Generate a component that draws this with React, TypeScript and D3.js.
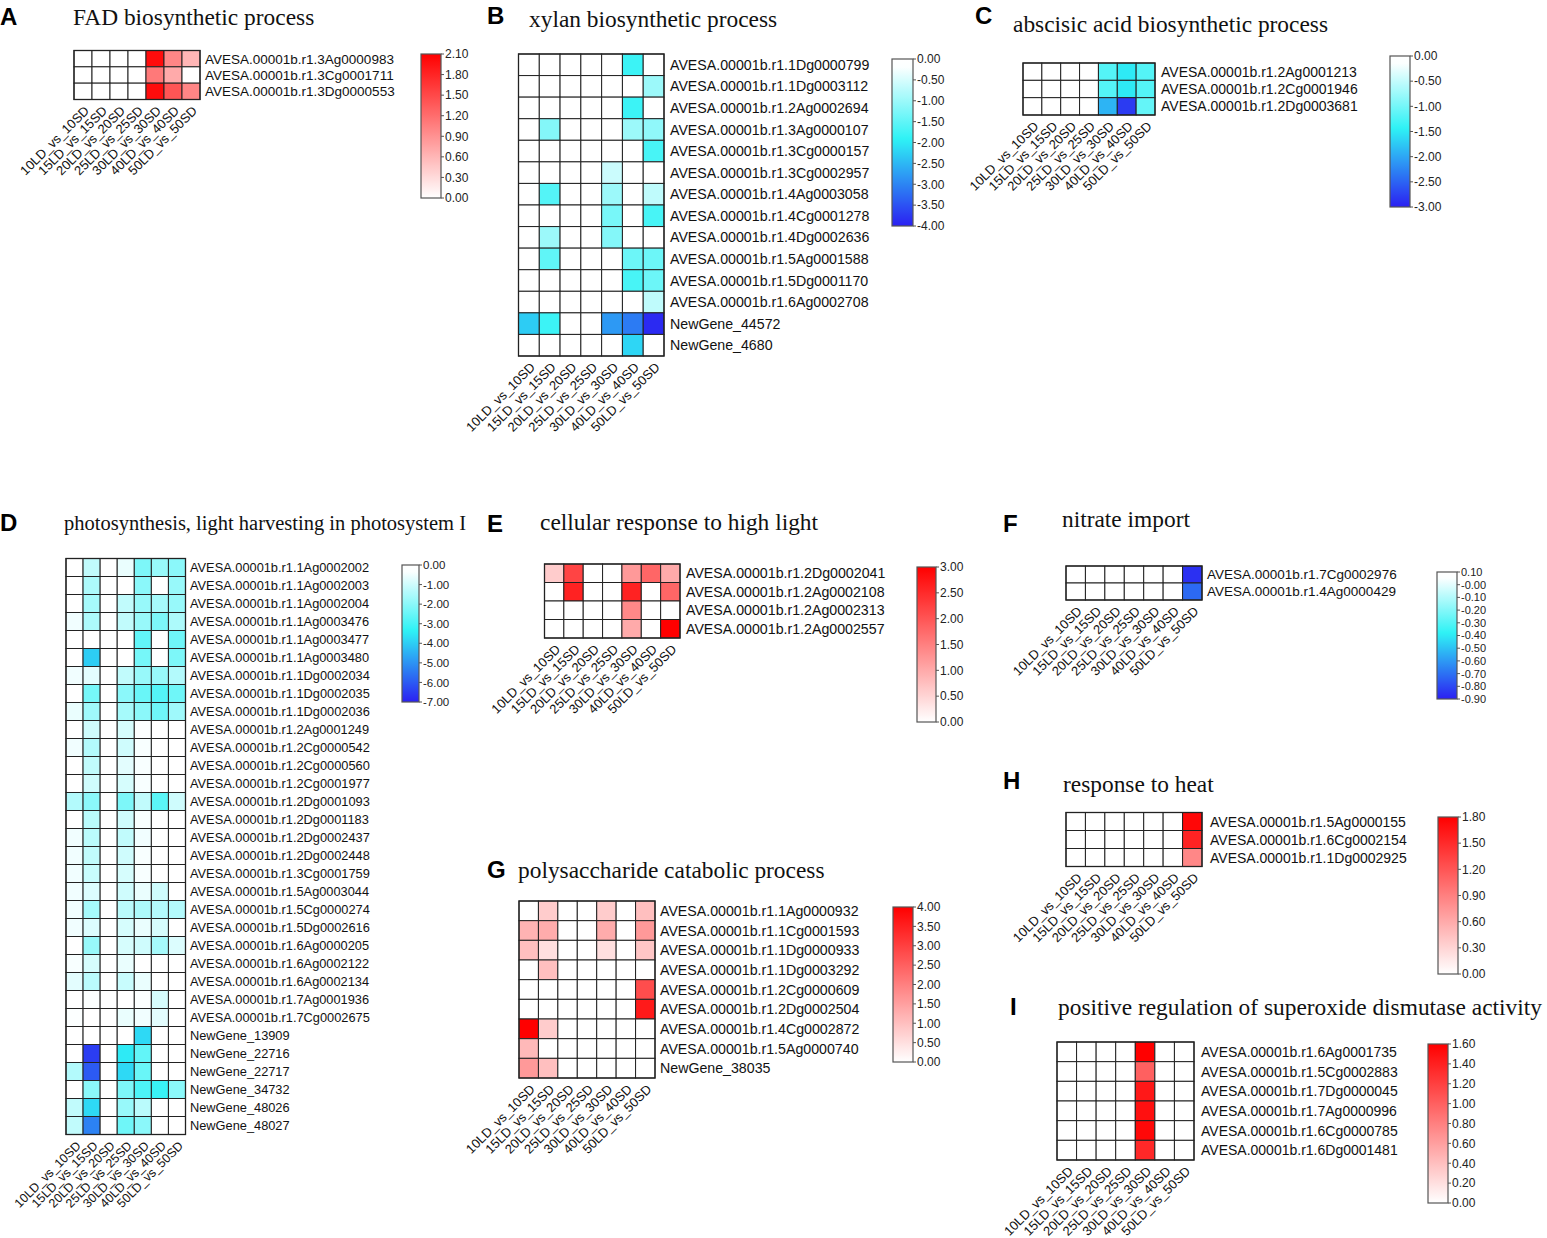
import React from "react";
import * as d3 from "d3";

const COLS = ["10LD_vs_10SD", "15LD_vs_15SD", "20LD_vs_20SD", "25LD_vs_25SD", "30LD_vs_30SD", "40LD_vs_40SD", "50LD_vs_50SD"];

// A: FAD biosynthetic process
const A_GENES = ["AVESA.00001b.r1.3Ag0000983", "AVESA.00001b.r1.3Cg0001711", "AVESA.00001b.r1.3Dg0000553"];
const A_VALUES = [
  [0, 0, 0, 0, 2.0, 1.0, 0.6],
  [0, 0, 0, 0, 1.1, 0.7, 0],
  [0, 0, 0, 0, 2.0, 1.4, 1.0],
];
const A_TICKS = ["2.10", "1.80", "1.50", "1.20", "0.90", "0.60", "0.30", "0.00"];

// B: xylan biosynthetic process
const B_GENES = [
  "AVESA.00001b.r1.1Dg0000799", "AVESA.00001b.r1.1Dg0003112", "AVESA.00001b.r1.2Ag0002694", "AVESA.00001b.r1.3Ag0000107",
  "AVESA.00001b.r1.3Cg0000157", "AVESA.00001b.r1.3Cg0002957", "AVESA.00001b.r1.4Ag0003058", "AVESA.00001b.r1.4Cg0001278",
  "AVESA.00001b.r1.4Dg0002636", "AVESA.00001b.r1.5Ag0001588", "AVESA.00001b.r1.5Dg0001170", "AVESA.00001b.r1.6Ag0002708",
  "NewGene_44572", "NewGene_4680",
];
const B_VALUES = [
  [0, 0, 0, 0, 0, -1.8, 0],
  [0, 0, 0, 0, 0, 0, -1.0],
  [0, 0, 0, 0, 0, -1.8, 0],
  [0, -1.2, 0, 0, 0, -1.0, -1.1],
  [0, 0, 0, 0, 0, 0, -1.7],
  [0, 0, 0, 0, -0.6, 0, 0],
  [0, -1.6, 0, 0, -1.0, 0, -0.7],
  [0, 0, 0, 0, -1.3, 0, -1.7],
  [0, -1.0, 0, 0, -1.2, 0, 0],
  [0, -1.5, 0, 0, 0, -1.4, -1.4],
  [0, 0, 0, 0, 0, -1.7, -1.4],
  [0, 0, 0, 0, 0, 0, -0.7],
  [-2.3, -1.8, 0, 0, -2.8, -3.1, -3.9],
  [0, 0, 0, 0, 0, -2.2, 0],
];
const B_TICKS = ["0.00", "-0.50", "-1.00", "-1.50", "-2.00", "-2.50", "-3.00", "-3.50", "-4.00"];

// C: abscisic acid biosynthetic process
const C_GENES = ["AVESA.00001b.r1.2Ag0001213", "AVESA.00001b.r1.2Cg0001946", "AVESA.00001b.r1.2Dg0003681"];
const C_VALUES = [
  [0, 0, 0, 0, -1.2, -1.5, -1.2],
  [0, 0, 0, 0, -1.2, -1.5, -1.2],
  [0, 0, 0, 0, -1.9, -2.8, -1.1],
];
const C_TICKS = ["0.00", "-0.50", "-1.00", "-1.50", "-2.00", "-2.50", "-3.00"];

// D: photosynthesis, light harvesting in photosystem I
const D_GENES = [
  "AVESA.00001b.r1.1Ag0002002", "AVESA.00001b.r1.1Ag0002003", "AVESA.00001b.r1.1Ag0002004", "AVESA.00001b.r1.1Ag0003476",
  "AVESA.00001b.r1.1Ag0003477", "AVESA.00001b.r1.1Ag0003480", "AVESA.00001b.r1.1Dg0002034", "AVESA.00001b.r1.1Dg0002035",
  "AVESA.00001b.r1.1Dg0002036", "AVESA.00001b.r1.2Ag0001249", "AVESA.00001b.r1.2Cg0000542", "AVESA.00001b.r1.2Cg0000560",
  "AVESA.00001b.r1.2Cg0001977", "AVESA.00001b.r1.2Dg0001093", "AVESA.00001b.r1.2Dg0001183", "AVESA.00001b.r1.2Dg0002437",
  "AVESA.00001b.r1.2Dg0002448", "AVESA.00001b.r1.3Cg0001759", "AVESA.00001b.r1.5Ag0003044", "AVESA.00001b.r1.5Cg0000274",
  "AVESA.00001b.r1.5Dg0002616", "AVESA.00001b.r1.6Ag0000205", "AVESA.00001b.r1.6Ag0002122", "AVESA.00001b.r1.6Ag0002134",
  "AVESA.00001b.r1.7Ag0001936", "AVESA.00001b.r1.7Cg0002675", "NewGene_13909", "NewGene_22716", "NewGene_22717",
  "NewGene_34732", "NewGene_48026", "NewGene_48027",
];
const D_VALUES = [
  [0, -1.2, 0, -0.6, -2.2, -1.8, -2.0],
  [0, -1.5, 0, 0, -2.0, 0, -1.8],
  [0, -1.6, 0, -1.2, -1.8, -1.6, -1.8],
  [-0.5, -1.5, 0, -1.2, -1.8, -2.2, -1.5],
  [0, 0, 0, 0, -2.6, 0, -2.4],
  [0, -4.0, 0, 0, -2.3, 0, -2.2],
  [-0.5, -0.7, 0, -1.2, -1.8, -1.8, -1.4],
  [0, -2.3, 0, -2.0, -2.5, -2.8, -2.4],
  [-0.6, -1.7, 0, -1.6, -2.0, -2.4, -1.7],
  [0, -1.0, 0, -0.9, -0.3, 0, 0],
  [-0.5, -1.4, 0, -1.0, -0.4, 0, 0],
  [0, -1.2, 0, -0.7, -0.4, 0, 0],
  [0, -1.0, 0, -0.9, -0.4, 0, 0],
  [-1.4, -2.0, 0, -2.2, -1.2, -2.7, -1.0],
  [0, -1.3, 0, -1.0, -0.4, 0, 0],
  [-0.5, -1.3, 0, -1.2, -0.5, 0, 0],
  [-0.5, -1.2, 0, -1.0, -0.4, 0, 0],
  [-0.5, -1.1, 0, -0.9, -0.4, 0, 0],
  [-0.5, -0.8, 0, -1.0, -0.6, -1.0, 0],
  [-0.5, -1.6, 0, -1.3, -1.5, -1.4, -1.4],
  [-0.5, -0.8, 0, -0.9, -0.6, -0.9, 0],
  [0, -1.8, 0, -0.9, -1.0, -1.6, -0.8],
  [-0.4, -0.9, 0, -0.6, 0, 0, 0],
  [-0.7, -1.3, 0, -1.1, -0.6, 0, 0],
  [0, -0.3, 0, 0, -0.3, -0.9, 0],
  [-0.3, 0, 0, -0.6, -0.5, -0.7, 0],
  [0, 0, 0, 0, -3.8, 0, 0],
  [0, -6.5, 0, -3.5, -2.6, 0, 0],
  [-1.4, -6.0, 0, -3.8, -2.5, 0, 0],
  [0, -2.0, 0, -2.2, -2.9, -3.2, -2.0],
  [-1.2, -3.8, 0, -1.8, -1.3, 0, 0],
  [-1.2, -5.3, 0, -2.4, -2.0, 0, 0],
];
const D_TICKS = ["0.00", "-1.00", "-2.00", "-3.00", "-4.00", "-5.00", "-6.00", "-7.00"];

// E: cellular response to high light
const E_GENES = ["AVESA.00001b.r1.2Dg0002041", "AVESA.00001b.r1.2Ag0002108", "AVESA.00001b.r1.2Ag0002313", "AVESA.00001b.r1.2Ag0002557"];
const E_VALUES = [
  [0.6, 2.2, 0, 0, 1.2, 1.8, 1.0],
  [0, 2.6, 0, 0, 2.6, 0, 1.8],
  [0, 0, 0, 0, 1.4, 0, 0],
  [0, 0, 0, 0, 1.0, 0, 3.0],
];
const E_TICKS = ["3.00", "2.50", "2.00", "1.50", "1.00", "0.50", "0.00"];

// F: nitrate import
const F_GENES = ["AVESA.00001b.r1.7Cg0002976", "AVESA.00001b.r1.4Ag0000429"];
const F_VALUES = [
  [0, 0, 0, 0, 0, 0, -0.86],
  [0, 0, 0, 0, 0, 0, -0.72],
];
const F_TICKS = ["0.10", "-0.00", "-0.10", "-0.20", "-0.30", "-0.40", "-0.50", "-0.60", "-0.70", "-0.80", "-0.90"];

// G: polysaccharide catabolic process
const G_GENES = [
  "AVESA.00001b.r1.1Ag0000932", "AVESA.00001b.r1.1Cg0001593", "AVESA.00001b.r1.1Dg0000933", "AVESA.00001b.r1.1Dg0003292",
  "AVESA.00001b.r1.2Cg0000609", "AVESA.00001b.r1.2Dg0002504", "AVESA.00001b.r1.4Cg0002872", "AVESA.00001b.r1.5Ag0000740",
  "NewGene_38035",
];
const G_VALUES = [
  [0, 0.8, 0, 0, 0.8, 0, 1.0],
  [1.2, 1.3, 0, 0, 1.3, 0, 1.6],
  [1.0, 0.5, 0, 0, 0.5, 0, 0.9],
  [0, 1.0, 0, 0, 0, 0, 0],
  [0, 0, 0, 0, 0, 0, 2.8],
  [0, 0, 0, 0, 0, 0, 3.6],
  [4.0, 0.8, 0, 0, 0, 0, 0],
  [1.1, 0, 0, 0, 0, 0, 0],
  [1.6, 1.0, 0, 0, 0, 0, 0],
];
const G_TICKS = ["4.00", "3.50", "3.00", "2.50", "2.00", "1.50", "1.00", "0.50", "0.00"];

// H: response to heat
const H_GENES = ["AVESA.00001b.r1.5Ag0000155", "AVESA.00001b.r1.6Cg0002154", "AVESA.00001b.r1.1Dg0002925"];
const H_VALUES = [
  [0, 0, 0, 0, 0, 0, 1.75],
  [0, 0, 0, 0, 0, 0, 1.55],
  [0, 0, 0, 0, 0, 0, 0.85],
];
const H_TICKS = ["1.80", "1.50", "1.20", "0.90", "0.60", "0.30", "0.00"];

// I: positive regulation of superoxide dismutase activity
const I_GENES = [
  "AVESA.00001b.r1.6Ag0001735", "AVESA.00001b.r1.5Cg0002883", "AVESA.00001b.r1.7Dg0000045",
  "AVESA.00001b.r1.7Ag0000996", "AVESA.00001b.r1.6Cg0000785", "AVESA.00001b.r1.6Dg0001481",
];
const I_VALUES = [
  [0, 0, 0, 0, 1.6, 0, 0],
  [0, 0, 0, 0, 1.0, 0, 0],
  [0, 0, 0, 0, 1.45, 0, 0],
  [0, 0, 0, 0, 1.5, 0, 0],
  [0, 0, 0, 0, 1.55, 0, 0],
  [0, 0, 0, 0, 1.35, 0, 0],
];
const I_TICKS = ["1.60", "1.40", "1.20", "1.00", "0.80", "0.60", "0.40", "0.20", "0.00"];

type PanelDef = {
  letter: string;
  title: string;
  genes: string[];
  values: number[][];
  ticks: string[];
  scheme: "red" | "blue";
  layout: {
    letterPos: [number, number];
    titlePos: [number, number];
    titleSize: number;
    grid: [number, number, number, number];
    labelX: number;
    labelSize: number;
    colSize: number;
    cb: [number, number, number, number];
    tickSize: number;
  };
};

const PANELS: PanelDef[] = [
  {
    letter: "A", title: "FAD biosynthetic process", genes: A_GENES, values: A_VALUES, ticks: A_TICKS, scheme: "red",
    layout: { letterPos: [0, 25], titlePos: [73, 25], titleSize: 23.4, grid: [74, 50.5, 126, 49], labelX: 205, labelSize: 13.5, colSize: 13, cb: [421, 54, 20, 144], tickSize: 12 },
  },
  {
    letter: "B", title: "xylan biosynthetic process", genes: B_GENES, values: B_VALUES, ticks: B_TICKS, scheme: "blue",
    layout: { letterPos: [487, 24], titlePos: [529, 27], titleSize: 23.4, grid: [518.5, 54, 145.5, 302], labelX: 670, labelSize: 14.2, colSize: 13, cb: [892, 59, 21, 167], tickSize: 12 },
  },
  {
    letter: "C", title: "abscisic acid biosynthetic process", genes: C_GENES, values: C_VALUES, ticks: C_TICKS, scheme: "blue",
    layout: { letterPos: [975, 24], titlePos: [1013, 32], titleSize: 23.4, grid: [1023, 63, 132, 52], labelX: 1161, labelSize: 14, colSize: 13, cb: [1390, 56, 20, 151], tickSize: 12 },
  },
  {
    letter: "D", title: "photosynthesis, light harvesting in photosystem I", genes: D_GENES, values: D_VALUES, ticks: D_TICKS, scheme: "blue",
    layout: { letterPos: [0, 531], titlePos: [64, 530], titleSize: 20.5, grid: [66, 558.5, 119.5, 576], labelX: 190, labelSize: 12.8, colSize: 12.5, cb: [402, 565, 17, 137], tickSize: 11.5 },
  },
  {
    letter: "E", title: "cellular response to high light", genes: E_GENES, values: E_VALUES, ticks: E_TICKS, scheme: "red",
    layout: { letterPos: [487, 532], titlePos: [540, 530], titleSize: 23.4, grid: [544.5, 564, 135.5, 74], labelX: 686, labelSize: 14.2, colSize: 13, cb: [917, 567, 19, 155], tickSize: 12 },
  },
  {
    letter: "F", title: "nitrate import", genes: F_GENES, values: F_VALUES, ticks: F_TICKS, scheme: "blue",
    layout: { letterPos: [1003, 532], titlePos: [1062, 527], titleSize: 23.4, grid: [1066, 566, 136, 34], labelX: 1207, labelSize: 13.5, colSize: 13, cb: [1437, 572, 20, 127], tickSize: 11 },
  },
  {
    letter: "G", title: "polysaccharide catabolic process", genes: G_GENES, values: G_VALUES, ticks: G_TICKS, scheme: "red",
    layout: { letterPos: [487, 878], titlePos: [518, 878], titleSize: 23.4, grid: [519, 901, 136, 177], labelX: 660, labelSize: 14.2, colSize: 13, cb: [893, 907, 20, 155], tickSize: 12 },
  },
  {
    letter: "H", title: "response to heat", genes: H_GENES, values: H_VALUES, ticks: H_TICKS, scheme: "red",
    layout: { letterPos: [1003, 789], titlePos: [1063, 792], titleSize: 23.4, grid: [1066, 812.5, 136, 54], labelX: 1210, labelSize: 14, colSize: 13, cb: [1438, 817, 20, 157], tickSize: 12 },
  },
  {
    letter: "I", title: "positive regulation of superoxide dismutase activity", genes: I_GENES, values: I_VALUES, ticks: I_TICKS, scheme: "red",
    layout: { letterPos: [1010, 1015], titlePos: [1058, 1015], titleSize: 23.4, grid: [1057, 1042, 137, 118], labelX: 1201, labelSize: 14, colSize: 13, cb: [1428, 1044, 20, 159], tickSize: 12 },
  },
];

const SANS = "'Liberation Sans', Arial, sans-serif";
const SERIF = "'Liberation Serif', 'Times New Roman', serif";

function Panel({ p }: { p: PanelDef }) {
  const L = p.layout;
  const [gx, gy, gw, gh] = L.grid;
  const x = d3.scaleBand<number>().domain(d3.range(COLS.length)).range([gx, gx + gw]);
  const y = d3.scaleBand<number>().domain(d3.range(p.genes.length)).range([gy, gy + gh]);
  const tickVals = p.ticks.map((t) => parseFloat(t));
  const top = d3.max(tickVals) as number;
  const bot = d3.min(tickVals) as number;
  const span = top - bot;
  const color =
    p.scheme === "red"
      ? d3.scaleLinear<string>().domain([0, top]).range(["#ffffff", "#ff0000"]).clamp(true)
      : d3
          .scaleLinear<string>()
          .domain([top, top - 0.05 * span, top - 0.48 * span, bot])
          .range(["#ffffff", "#fbffff", "#2ef2f5", "#2b20f2"])
          .clamp(true);
  const [cx, cy, cw, ch] = L.cb;
  const cbScale = d3.scaleLinear().domain([bot, top]).range([cy + ch, cy]);
  const gid = `grad-${p.letter}`;
  const stops = d3.range(0, 41).map((i) => {
    const v = top - (i / 40) * span;
    return { off: i / 40, c: color(v) };
  });
  return (
    <g>
      <text x={L.letterPos[0]} y={L.letterPos[1]} fontFamily={SANS} fontWeight="bold" fontSize={24} fill="#000">
        {p.letter}
      </text>
      <text x={L.titlePos[0]} y={L.titlePos[1]} fontFamily={SERIF} fontSize={L.titleSize} fill="#111">
        {p.title}
      </text>
      {p.values.map((row, ri) =>
        row.map((v, ci) => (
          <rect
            key={`${ri}-${ci}`}
            x={x(ci)}
            y={y(ri)}
            width={x.bandwidth()}
            height={y.bandwidth()}
            fill={v === 0 ? "#ffffff" : color(v)}
            stroke="#222"
            strokeWidth={1}
          />
        ))
      )}
      <rect x={gx} y={gy} width={gw} height={gh} fill="none" stroke="#222" strokeWidth={1.3} />
      {p.genes.map((g, ri) => (
        <text
          key={g}
          x={L.labelX}
          y={(y(ri) as number) + y.bandwidth() / 2}
          dy="0.36em"
          fontFamily={SANS}
          fontSize={L.labelSize}
          fill="#111"
        >
          {g}
        </text>
      ))}
      {COLS.map((c, ci) => {
        const ax = (x(ci) as number) + x.bandwidth() / 2 + 7;
        const ay = gy + gh + 12;
        return (
          <text
            key={c}
            transform={`translate(${ax},${ay}) rotate(-45)`}
            textAnchor="end"
            fontFamily={SANS}
            fontSize={L.colSize}
            fill="#111"
          >
            {c}
          </text>
        );
      })}
      <defs>
        <linearGradient id={gid} x1="0" y1="0" x2="0" y2="1">
          {stops.map((s, i) => (
            <stop key={i} offset={s.off} stopColor={s.c} />
          ))}
        </linearGradient>
      </defs>
      <rect x={cx} y={cy} width={cw} height={ch} fill={`url(#${gid})`} stroke="#555" strokeWidth={1.2} />
      {p.ticks.map((t, i) => {
        const ty = cbScale(tickVals[i]);
        return (
          <g key={t + i}>
            <line x1={cx + cw} x2={cx + cw + 3} y1={ty} y2={ty} stroke="#555" strokeWidth={1} />
            <text x={cx + cw + 4} y={ty} dy="0.36em" fontFamily={SANS} fontSize={L.tickSize} fill="#222">
              {t}
            </text>
          </g>
        );
      })}
    </g>
  );
}

export default function App() {
  return (
    <svg
      width={1547}
      height={1238}
      viewBox="0 0 1547 1238"
      style={{ position: "absolute", left: 0, top: 0, background: "#fff" }}
    >
      <rect x={0} y={0} width={1547} height={1238} fill="#fff" />
      {PANELS.map((p) => (
        <Panel key={p.letter} p={p} />
      ))}
    </svg>
  );
}
